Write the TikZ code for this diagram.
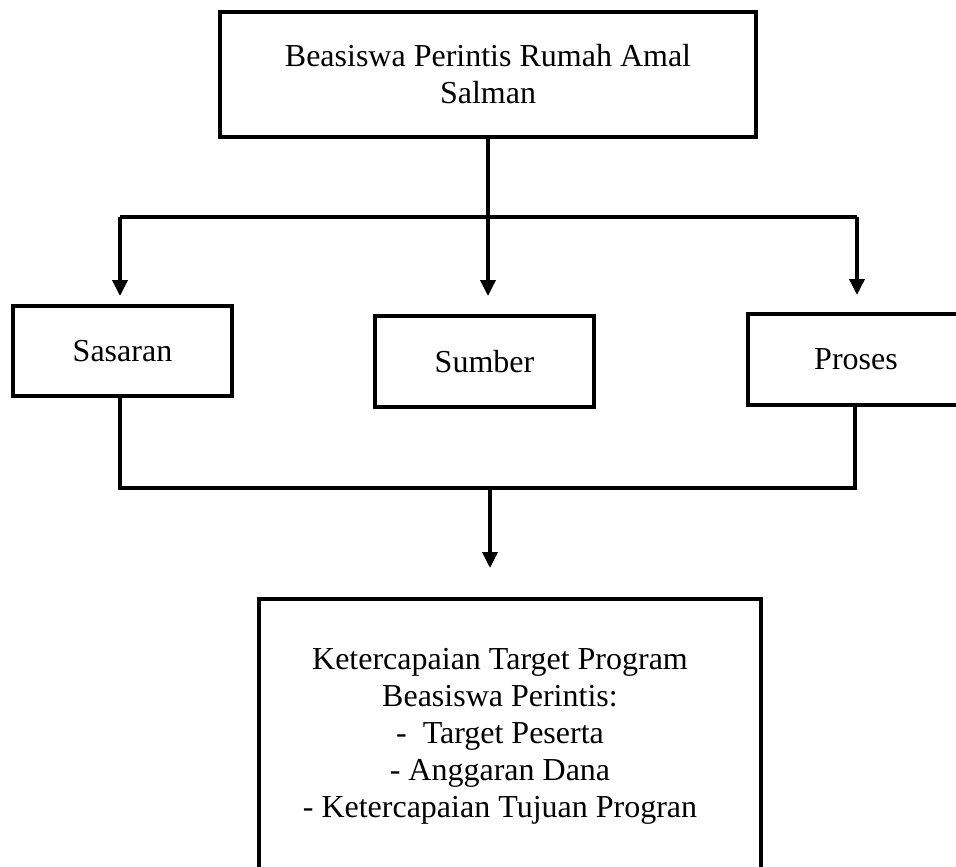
\documentclass[tikz,border=0pt]{standalone}
\usepackage{fontspec}
\setmainfont{Liberation Serif}
\usetikzlibrary{arrows.meta}
\pgfdeclarelayer{edgelayer}
\pgfdeclarelayer{nodelayer}
\pgfsetlayers{edgelayer,nodelayer,main}
\tikzstyle{box}=[rectangle,fill=white,draw=black,line width=4pt,font=\fontsize{32}{37}\selectfont,align=center]
\tikzstyle{label}=[font=\fontsize{32}{37}\selectfont,align=center]
\tikzstyle{line}=[draw=black,line width=3.5pt]
\tikzstyle{transition}=[-{Triangle[length=16pt,width=15pt]},draw=black,line width=3.5pt]

\begin{document}
\begin{tikzpicture}[x=1pt,y=-1pt]
	\useasboundingbox (0,0) rectangle (956,867);
	\clip (0,0) rectangle (956,867);
	\begin{pgfonlayer}{nodelayer}
		\node [style=box, minimum width=536, minimum height=125] (0) at (488, 74.5) {Beasiswa Perintis Rumah Amal\\Salman};
		\node [style=box, minimum width=219, minimum height=90] (1) at (122.5, 351) {Sasaran};
		\node [style=box, minimum width=219, minimum height=91] (2) at (484.5, 361.5) {Sumber};
		\node [style=box, minimum width=216, minimum height=91] (3) at (856, 359.5) {Proses};
		\node [style=box, minimum width=502, minimum height=276] (4) at (510, 737) {};
		\node [style=label] (5) at (500, 736.5) {Ketercapaian Target Program\\Beasiswa Perintis:\\-\ \ Target Peserta\\- Anggaran Dana\\- Ketercapaian Tujuan Progran};
		\coordinate (6) at (120, 217);
		\coordinate (7) at (857, 217);
		\coordinate (8) at (120, 488);
		\coordinate (9) at (855, 488);
		\coordinate (10) at (490, 488);
	\end{pgfonlayer}
	\begin{pgfonlayer}{edgelayer}
		\draw [style=line] (0.south) -- (0.south |- 6);
		\draw [style=line] (6) -- (7);
		\draw [style=transition, shorten >=8pt] (6) -- (6 |- 1.north);
		\draw [style=transition, shorten >=18pt] (0.south |- 6) -- (0.south |- 2.north);
		\draw [style=transition, shorten >=17pt] (7) -- (7 |- 3.north);
		\draw [style=line] (1.south -| 8) -- (8) -- (9) -- (3.south -| 9);
		\draw [style=transition, shorten >=29pt] (10) -- (10 |- 4.north);
	\end{pgfonlayer}
\end{tikzpicture}
\end{document}
